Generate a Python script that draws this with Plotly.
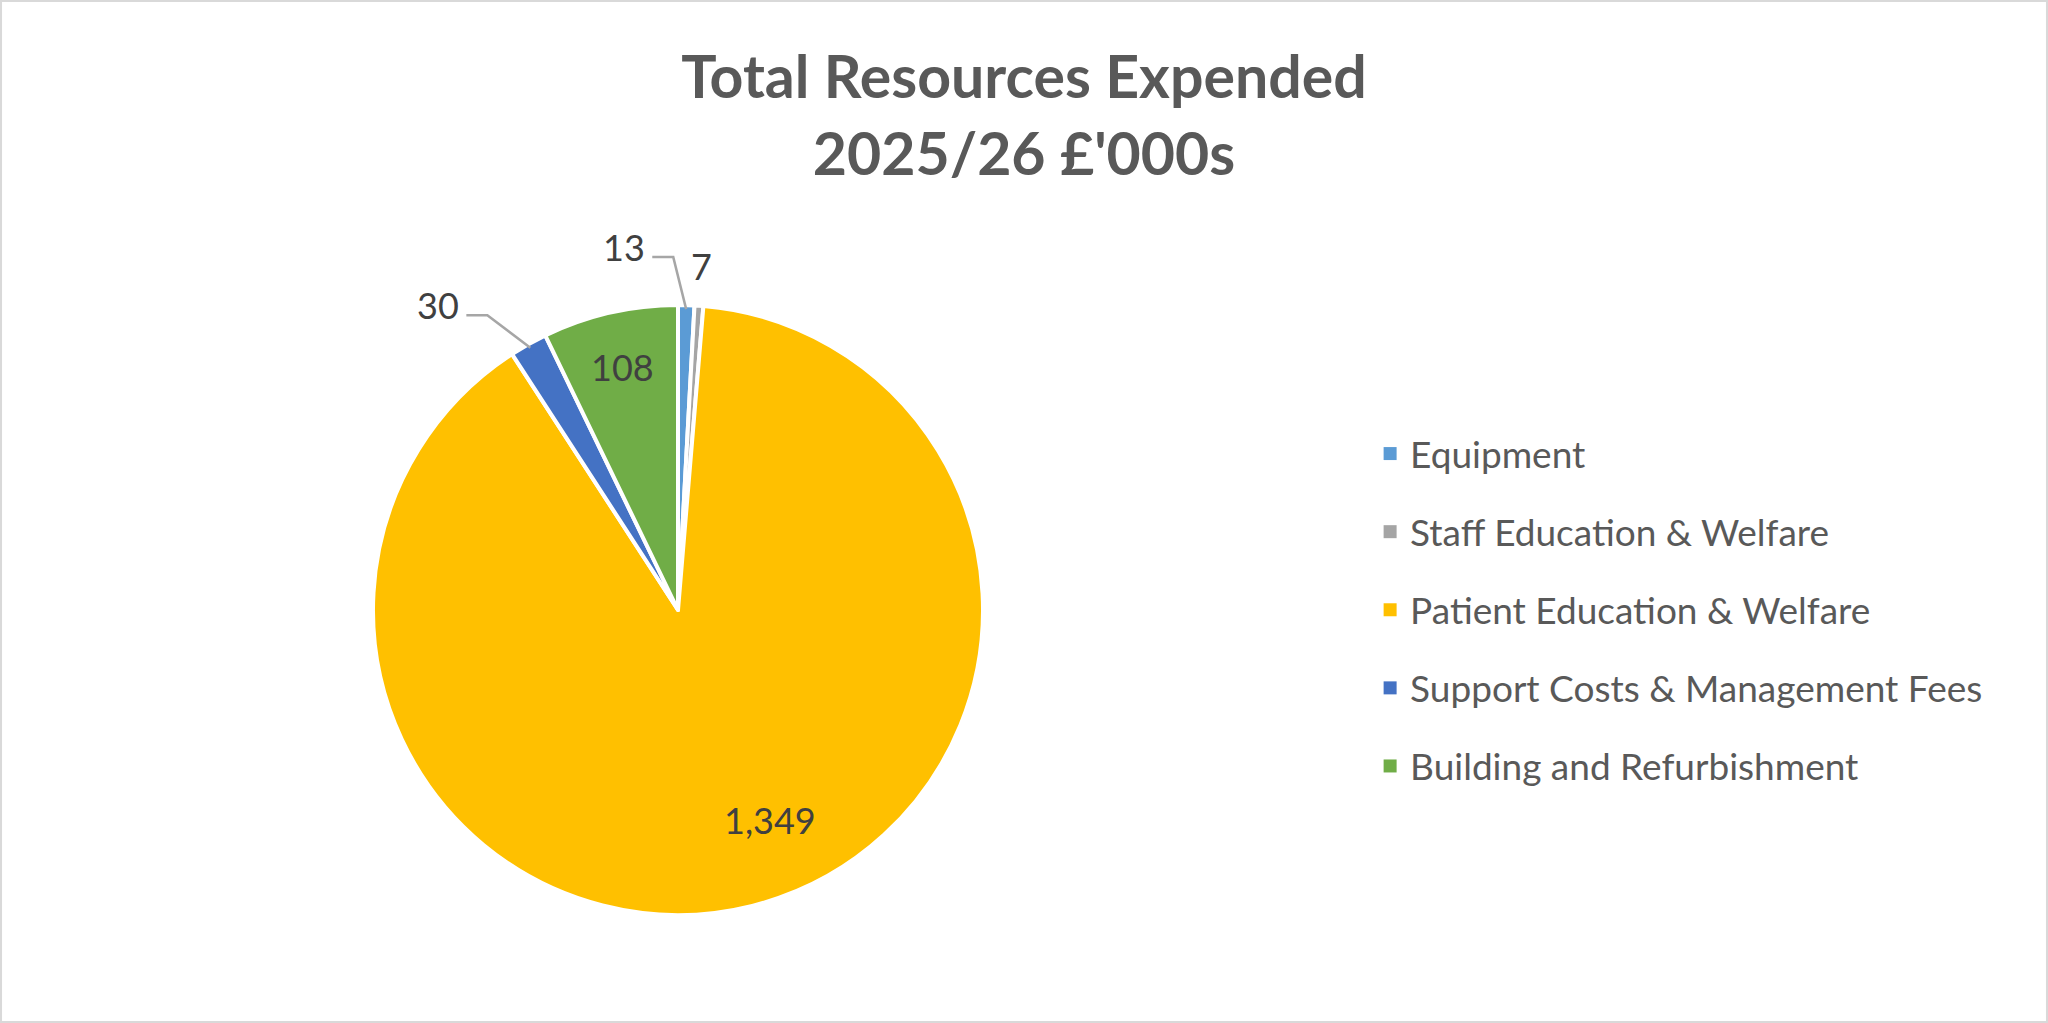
"""
Total Resources Expended 2025/26 £'000s - pie chart (Plotly)
"""

import numpy as np
import plotly.graph_objects as go

# data
categories = [
    'Equipment',
    'Staff Education & Welfare',
    'Patient Education & Welfare',
    'Support Costs & Management Fees',
    'Building and Refurbishment',
]
values = [13, 7, 1349, 30, 108]
colors = ['#5B9BD5', '#A5A5A5', '#FFC000', '#4472C4', '#70AD47']

W, H = 2048, 1023
FONT = 'Lato, Open Sans, sans-serif'
LABEL_COLOR = '#404040'

# pie placement (pixels)
cx_px, cy_px, r_px = 678, 610, 305
dom_x = [(cx_px - r_px) / W, (cx_px + r_px) / W]
dom_y = [1 - (cy_px + r_px) / H, 1 - (cy_px - r_px) / H]

# label placement per slice: (radius fraction, x shift px, y shift px, leader line)
label_pos = {
    0: (1.0, -62, -58, True),
    1: (1.0, 3, -40, False),
    2: (0.75, 36, -12, False),
    3: (1.0, -90, -39, True),
}

fig = go.Figure()

fig.add_trace(go.Pie(
    labels=categories,
    values=values,
    sort=False,
    direction='clockwise',
    rotation=0,
    domain=dict(x=dom_x, y=dom_y),
    marker=dict(colors=colors, line=dict(color='white', width=4)),
    texttemplate=['' if i in label_pos else '%{value:,}' for i in range(len(values))],
    textposition='inside',
    insidetextorientation='horizontal',
    insidetextfont=dict(family=FONT, size=36, color=LABEL_COLOR),
    showlegend=False,
    hoverinfo='label+value',
))

# legend built from dummy traces so that the row spacing can match
for cat, col in zip(categories, colors):
    fig.add_trace(go.Scatter(
        x=[None], y=[None],
        mode='markers',
        name=cat,
        legendgroup=cat,
        marker=dict(symbol='square', size=13, color=col),
        showlegend=True,
    ))


def px_to_paper(x, y):
    return x / W, 1 - y / H


# data labels: anchor point computed from each slice's mid angle
total = float(sum(values))
cum = np.cumsum([0] + values[:-1])
annotations = []
shapes = []
for i, (v, c0) in enumerate(zip(values, cum)):
    if i not in label_pos:
        continue
    frac, dx, dy, line = label_pos[i]
    ang = np.deg2rad((c0 + v / 2) / total * 360)
    ex = cx_px + frac * r_px * np.sin(ang)
    ey = cy_px - frac * r_px * np.cos(ang)
    tx, ty = ex + dx, ey + dy
    px, py = px_to_paper(tx, ty)
    annotations.append(dict(
        x=px, y=py, xref='paper', yref='paper',
        xanchor='center', yanchor='middle',
        text=f'{v:,}', showarrow=False,
        font=dict(family=FONT, size=36, color=LABEL_COLOR),
    ))
    if line:
        # elbow leader line: short horizontal run, then diagonal to the slice edge
        p0 = px_to_paper(tx + 28, ty + 10)
        p1 = px_to_paper(tx + 49, ty + 10)
        p2 = px_to_paper(ex + (cx_px - ex) * 0.013, ey + (cy_px - ey) * 0.013)
        shapes.append(dict(
            type='path', xref='paper', yref='paper',
            path=f'M {p0[0]} {p0[1]} L {p1[0]} {p1[1]} L {p2[0]} {p2[1]}',
            line=dict(color='#A6A6A6', width=2.5),
        ))

# chart frame
shapes.append(dict(
    type='rect', xref='paper', yref='paper',
    x0=0.0005, x1=0.9995, y0=0.001, y1=0.999,
    line=dict(color='#D9D9D9', width=2),
))

fig.update_layout(
    width=W,
    height=H,
    margin=dict(l=0, r=0, t=0, b=0),
    paper_bgcolor='white',
    plot_bgcolor='white',
    title=dict(
        text="<b>Total Resources Expended</b><br><b>2025/26 £'000s</b>",
        x=0.5, xanchor='center',
        y=0.904, yanchor='top',
        font=dict(family=FONT, size=59, color='#595959'),
    ),
    xaxis=dict(visible=False),
    yaxis=dict(visible=False),
    legend=dict(
        x=0.669, xanchor='left',
        y=0.4037, yanchor='middle',
        font=dict(family=FONT, size=37, color='#595959'),
        tracegroupgap=27,
        traceorder='grouped',
        bgcolor='rgba(0,0,0,0)',
    ),
    annotations=annotations,
    shapes=shapes,
)

fig.write_html('out.html', config={'displayModeBar': False},
               post_script="document.body.style.margin='0';")
